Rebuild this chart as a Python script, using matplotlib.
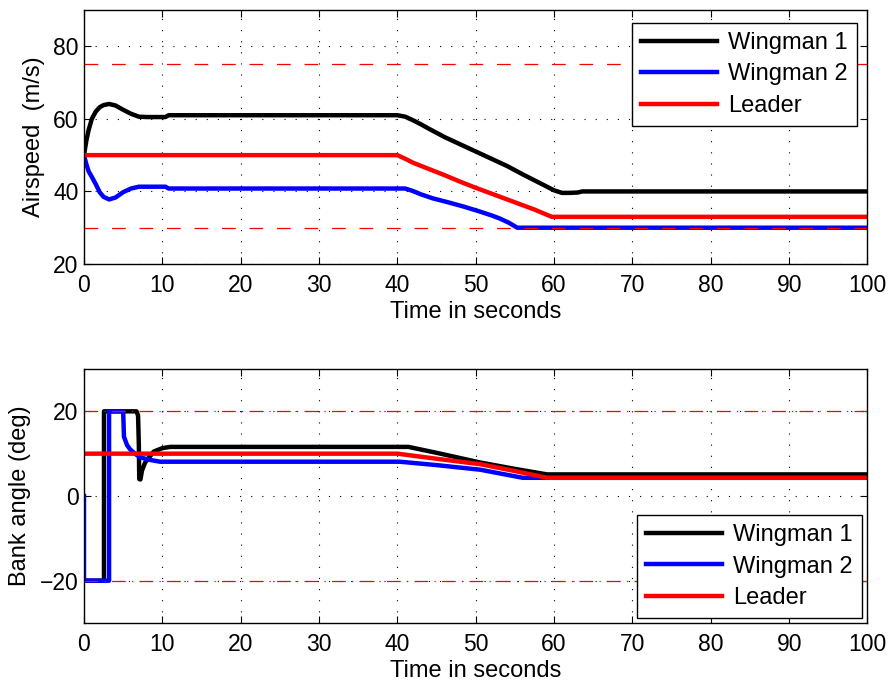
import matplotlib.pyplot as plt

plt.rcParams['font.family'] = ['Liberation Sans', 'DejaVu Sans']

# airspeed (m/s)
t_w1 = [0, 0.3, 0.6, 1.0, 1.5, 2.0, 2.5, 3.2, 4, 5, 6, 7, 8, 10.4, 10.8, 40, 41, 42, 43, 44, 46, 48, 50, 52, 54, 56, 58, 60, 61, 62, 63, 63.6, 100]
v_w1 = [50, 54, 57, 60, 62, 63.2, 63.8, 64.1, 63.7, 62.5, 61.4, 60.6, 60.5, 60.5, 61, 61, 60.6, 59.6, 58.5, 57.3, 55, 53, 51, 49, 47, 44.7, 42.5, 40.3, 39.6, 39.6, 39.7, 40, 40]
t_w2 = [0, 0.3, 0.6, 1.0, 1.5, 2.0, 2.5, 3.2, 4, 5, 6, 7, 10.4, 10.8, 41, 42, 43, 44.5, 46.3, 48.5, 50.6, 52, 53, 54.2, 55.3, 100]
v_w2 = [50, 47.5, 45.5, 44, 42, 39.8, 38.5, 37.8, 38.3, 39.8, 40.8, 41.3, 41.3, 40.8, 40.8, 40.1, 39.2, 38.1, 37.1, 35.8, 34.4, 33.4, 32.6, 31.4, 30, 30]
t_ld = [0, 40, 41, 42, 44, 46, 48, 50, 52.5, 55, 57.5, 59.7, 100]
v_ld = [50, 50, 49, 47.9, 46.2, 44.5, 42.7, 41.0, 39.0, 37.0, 35.0, 33.0, 33.0]

# bank angle (deg)
tb_w1 = [0, 2.55, 2.55, 6.7, 6.9, 7.0, 7.05, 7.2, 7.4, 7.8, 8.9, 10.0, 11.0, 41.4, 45, 50.6, 55, 59.1, 100]
b_w1 = [-20, -20, 20, 20, 19, 12, 4, 3.9, 6, 7.9, 10.5, 11.3, 11.6, 11.6, 10.2, 7.9, 6.4, 5.1, 5.1]
tb_w2 = [0, 0, 3.2, 3.2, 5.0, 5.1, 5.5, 5.9, 6.5, 7.2, 8.5, 9.7, 40.3, 45, 50.6, 56, 100]
b_w2 = [0, -20, -20, 20, 20, 14, 12, 11, 10, 9.1, 8.5, 8.1, 8.1, 7.3, 6.2, 4.3, 4.3]
tb_ld = [0, 40, 45, 50.6, 55, 59.1, 100]
b_ld = [10, 10, 8.8, 7.5, 5.9, 4.3, 4.3]

names = ['Wingman 1', 'Wingman 2', 'Leader']
colors = ['black', 'blue', 'red']
xticks = list(range(0, 101, 10))

fig = plt.figure(figsize=(8.93, 6.88), dpi=100)
ax1 = fig.add_axes([84 / 893, 1 - 264 / 688, 783.5 / 893, 254 / 688])
ax2 = fig.add_axes([84 / 893, 1 - 623 / 688, 783.5 / 893, 254 / 688])


def style(ax, ylim, yticks, ylabel):
    ax.set_xlim(0, 100)
    ax.set_ylim(*ylim)
    ax.set_xticks(xticks)
    ax.set_yticks(yticks)
    ax.grid(True, color='black', linestyle=(0, (1, 9)), linewidth=0.8)
    ax.tick_params(direction='in', top=True, right=True, labelsize=16.5, length=5, width=0.8)
    ax.tick_params(axis='x', pad=7)
    ax.tick_params(axis='y', pad=4)
    ax.set_xlabel('Time in seconds', fontsize=17, labelpad=3)
    ax.set_ylabel(ylabel, fontsize=17, labelpad=6)
    for s in ax.spines.values():
        s.set_linewidth(1.0)


for ax, series in [
    (ax1, [(t_w1, v_w1), (t_w2, v_w2), (t_ld, v_ld)]),
    (ax2, [(tb_w1, b_w1), (tb_w2, b_w2), (tb_ld, b_ld)]),
]:
    for (tt, vv), c, n in zip(series, colors, names):
        ax.plot(tt, vv, color=c, linewidth=3.2, label=n, solid_joinstyle='round')

for y in (75, 30):
    ax1.axhline(y, color='red', linestyle=(0, (11, 11)), linewidth=0.9)
for y in (20, -20):
    ax2.axhline(y, color='red', linestyle=(0, (11, 5, 1, 5)), linewidth=0.9)

style(ax1, (20, 90), [20, 40, 60, 80], 'Airspeed  (m/s)')
style(ax2, (-30, 30), [-20, 0, 20], 'Bank angle (deg)')

leg_kw = dict(fontsize=17, fancybox=False, edgecolor='black', framealpha=1,
              handlelength=3.2, handletextpad=0.5, labelspacing=0.4,
              borderpad=0.38, borderaxespad=0, bbox_transform=fig.transFigure)
l1 = ax1.legend(loc='upper right', bbox_to_anchor=(857 / 893, 1 - 23 / 688), **leg_kw)
l2 = ax2.legend(loc='lower right', bbox_to_anchor=(862 / 893, 1 - 618 / 688), **leg_kw)
for l in (l1, l2):
    l.get_frame().set_linewidth(1.0)

fig.savefig('out.png', dpi=100)
